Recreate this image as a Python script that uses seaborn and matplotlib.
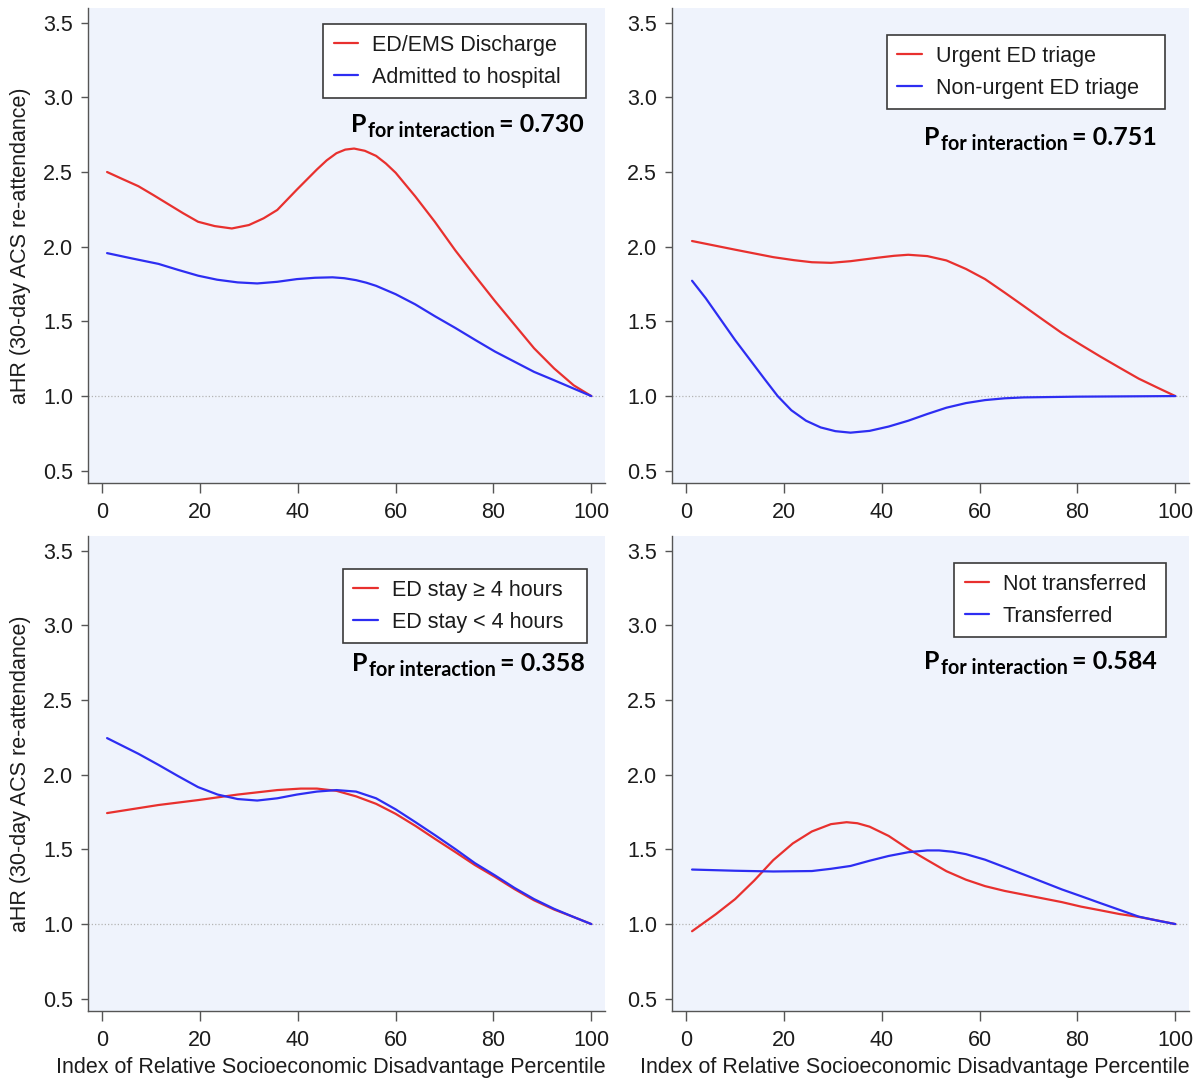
import matplotlib
matplotlib.use("Agg")
import matplotlib.pyplot as plt
from matplotlib.transforms import offset_copy
import pandas as pd
import seaborn as sns

# ---------------- data ----------------
x_ticks = [0, 20, 40, 60, 80, 100]
y_ticks = [0.5, 1.0, 1.5, 2.0, 2.5, 3.0, 3.5]
x_label = "Index of Relative Socioeconomic Disadvantage Percentile"
y_label = "aHR (30-day ACS re-attendance)"

# Panel A: disposition
a_labels = ["ED/EMS Discharge", "Admitted to hospital"]
a_red_x = [1, 4, 7.4, 10.5, 13.5, 16.5, 19.6, 23, 26.5, 30, 33, 35.8, 39.8, 43.9,
           45.9, 47.9, 49.7, 51.5, 53.7, 56, 58, 60, 64, 68, 72.2, 76.2, 80.3,
           84.3, 88.3, 92.4, 96.4, 100]
a_red_y = [2.50, 2.455, 2.405, 2.345, 2.285, 2.225, 2.167, 2.138, 2.122, 2.145,
           2.19, 2.246, 2.382, 2.517, 2.578, 2.626, 2.650, 2.657, 2.642, 2.608,
           2.557, 2.495, 2.337, 2.167, 1.975, 1.806, 1.636, 1.478, 1.320, 1.185,
           1.072, 1.0]
a_blue_x = [1, 6, 11.5, 15.5, 19.6, 23.5, 27.7, 31.7, 35.8, 39.8, 43.5, 47.1,
            49.5, 51.9, 54, 56, 60, 64, 68, 72.2, 76.2, 80.3, 84.3, 88.3, 92.4,
            96.4, 100]
a_blue_y = [1.957, 1.922, 1.885, 1.845, 1.806, 1.779, 1.761, 1.754, 1.765, 1.783,
            1.792, 1.795, 1.789, 1.776, 1.759, 1.738, 1.682, 1.614, 1.535, 1.456,
            1.377, 1.298, 1.230, 1.162, 1.106, 1.050, 1.0]
a_p = "0.730"

# Panel B: triage category
b_labels = ["Urgent ED triage", "Non-urgent ED triage"]
b_red_x = [1.2, 10, 17.8, 22, 25.7, 29.6, 33.6, 39.1, 42.5, 45.4, 49.3, 53.2,
           57.2, 61.1, 65.1, 69, 72.9, 76.8, 80.7, 84.7, 88.6, 92.5, 96.5, 100]
b_red_y = [2.038, 1.980, 1.930, 1.910, 1.896, 1.892, 1.903, 1.926, 1.939, 1.946,
           1.937, 1.908, 1.851, 1.783, 1.693, 1.603, 1.512, 1.422, 1.343, 1.264,
           1.190, 1.117, 1.054, 1.0]
b_blue_x = [1.2, 4, 7, 10, 13, 16, 18.7, 21.5, 24.5, 27.5, 30.5, 33.6, 37.5,
            41.4, 45.4, 49.3, 53.2, 57.2, 61.1, 65.1, 69, 80, 100]
b_blue_y = [1.772, 1.655, 1.515, 1.375, 1.245, 1.115, 1.0, 0.905, 0.835, 0.790,
            0.765, 0.755, 0.767, 0.796, 0.835, 0.880, 0.922, 0.953, 0.973, 0.985,
            0.991, 0.996, 1.0]
b_p = "0.751"

# Panel C: length of ED stay
c_labels = ["ED stay \u2265 4 hours", "ED stay < 4 hours"]
c_red_x = [1, 11.5, 19.6, 27.7, 35.8, 40.6, 43.9, 47.9, 51.9, 56, 60, 64.1, 68.1,
           72.2, 76.2, 80.3, 84.3, 88.3, 92.4, 96.4, 100]
c_red_y = [1.743, 1.797, 1.830, 1.867, 1.897, 1.907, 1.907, 1.892, 1.855, 1.805,
           1.738, 1.656, 1.569, 1.482, 1.395, 1.316, 1.234, 1.159, 1.097, 1.047,
           1.0]
c_blue_x = [1, 7.4, 11.5, 15.5, 19.6, 23.6, 27.7, 31.7, 35.8, 39.8, 43.9, 47.9,
            51.9, 56, 60, 64.1, 68.1, 72.2, 76.2, 80.3, 84.3, 88.3, 92.4, 96.4,
            100]
c_blue_y = [2.245, 2.140, 2.066, 1.991, 1.917, 1.867, 1.837, 1.827, 1.842, 1.867,
            1.887, 1.897, 1.887, 1.842, 1.768, 1.681, 1.594, 1.502, 1.408, 1.326,
            1.242, 1.167, 1.102, 1.047, 1.0]
c_p = "0.358"

# Panel D: inter-hospital transfer
d_labels = ["Not transferred", "Transferred"]
d_red_x = [1.2, 6.1, 10, 13.9, 17.8, 21.8, 25.7, 29.6, 32.8, 35, 37.5, 41.4, 45.4,
           49.3, 53.2, 57.2, 61.1, 65.1, 69, 72.9, 76.8, 80.7, 84.7, 88.6, 92.5,
           96.5, 100]
d_red_y = [0.952, 1.067, 1.167, 1.291, 1.428, 1.540, 1.620, 1.669, 1.682, 1.675,
           1.652, 1.590, 1.503, 1.428, 1.354, 1.297, 1.254, 1.222, 1.197, 1.172,
           1.147, 1.117, 1.092, 1.067, 1.048, 1.023, 1.0]
d_blue_x = [1.2, 10, 17.8, 25.7, 29.6, 33.6, 37.5, 41.4, 45.4, 49.3, 51.7, 54.5,
            57.2, 61.1, 65.1, 69, 72.9, 76.8, 80.7, 84.7, 88.6, 92.5, 96.5, 100]
d_blue_y = [1.365, 1.357, 1.352, 1.355, 1.370, 1.389, 1.424, 1.456, 1.481, 1.493,
            1.493, 1.484, 1.468, 1.431, 1.381, 1.332, 1.282, 1.232, 1.187, 1.140,
            1.095, 1.050, 1.022, 1.0]
d_p = "0.584"

# ---------------- style ----------------
RED = "#e8302e"
BLUE = "#2d2df2"
PLOT_BG = "#eff3fc"
AXIS_COL = "#555555"
TEXT_COL = "#1c1c1c"
FS = 15.5

sns.set_theme(style="white")
plt.rcParams.update({
    "font.family": ["Liberation Sans", "DejaVu Sans"],
    "axes.facecolor": PLOT_BG,
    "figure.facecolor": "white",
})

W, H = 1203, 1082
fig = plt.figure(figsize=(W / 100, H / 100), dpi=100)


def px_rect(left, top, right, bottom):
    return [left / W, (H - bottom) / H, (right - left) / W, (bottom - top) / H]


ax_a = fig.add_axes(px_rect(88, 8, 605, 483))
ax_b = fig.add_axes(px_rect(672, 8, 1189, 483))
ax_c = fig.add_axes(px_rect(88, 536, 605, 1011))
ax_d = fig.add_axes(px_rect(672, 536, 1189, 1011))

renderer = fig.canvas.get_renderer()


def p_label(ax, x_ax, y_ax, pval):
    """Bold 'P' with a subscript 'for interaction', right-aligned at (x_ax, y_ax)."""
    kw = dict(ha="right", va="baseline", fontfamily="Lato", fontweight="bold",
              color="black")
    main = ax.text(x_ax, y_ax, "= " + pval, transform=ax.transAxes,
                   fontsize=18, **kw)
    w_main = main.get_window_extent(renderer).width
    sub_tr = offset_copy(ax.transAxes, fig=fig, x=-(w_main + 4), y=-5,
                         units="dots")
    sub = ax.text(x_ax, y_ax, "for interaction", transform=sub_tr,
                  fontsize=14.2, **kw)
    w_sub = sub.get_window_extent(renderer).width
    p_tr = offset_copy(ax.transAxes, fig=fig, x=-(w_main + 4 + w_sub + 2), y=0,
                       units="dots")
    ax.text(x_ax, y_ax, "P", transform=p_tr, fontsize=18, **kw)


def draw_panel(ax, rx, ry, bx, by, labels, pval, leg_box, p_xy, left_col, bottom_row):
    df = pd.concat([
        pd.DataFrame({"pct": rx, "ahr": ry, "group": labels[0]}),
        pd.DataFrame({"pct": bx, "ahr": by, "group": labels[1]}),
    ], ignore_index=True)
    ax.axhline(1.0, color="#b4b4b4", lw=0.9, ls=(0, (1, 1.6)), zorder=1)
    sns.lineplot(data=df, x="pct", y="ahr", hue="group", hue_order=labels,
                 palette=[RED, BLUE], estimator=None, linewidth=1.6, ax=ax,
                 zorder=3)

    ax.set_xlim(-2.9, 102.8)
    ax.set_ylim(0.418, 3.598)
    ax.set_xticks(x_ticks)
    ax.set_yticks(y_ticks)
    ax.set_yticklabels([f"{v:.1f}" for v in y_ticks])
    ax.tick_params(axis="y", length=5.3, width=1.0, color=AXIS_COL,
                   labelsize=FS, labelcolor=TEXT_COL, pad=5.5, left=True)
    ax.tick_params(axis="x", length=7, width=1.0, color=AXIS_COL,
                   labelsize=FS, labelcolor=TEXT_COL, pad=6.5, bottom=True)
    for side in ("top", "right"):
        ax.spines[side].set_visible(False)
    for side in ("left", "bottom"):
        ax.spines[side].set_color(AXIS_COL)
        ax.spines[side].set_linewidth(1.0)

    if bottom_row:
        ax.set_xlabel(x_label, fontsize=FS, color=TEXT_COL)
        ax.xaxis.set_label_coords(0.47, -0.097)
        ax.xaxis.label.set_va("top")
    else:
        ax.set_xlabel("")
    if left_col:
        ax.set_ylabel(y_label, fontsize=FS, color=TEXT_COL)
        ax.yaxis.set_label_coords(-0.110, 0.5)
    else:
        ax.set_ylabel("")

    handles, labs = ax.get_legend_handles_labels()
    x0, w, ytop = leg_box
    leg = ax.legend(handles, labs, loc="upper left", bbox_to_anchor=(x0, 0, w, ytop),
                    mode="expand", borderaxespad=0, frameon=True, fancybox=False,
                    framealpha=1, facecolor="white", edgecolor="#3a3a3a",
                    fontsize=FS, handlelength=1.12, handletextpad=0.65,
                    borderpad=0.5, labelspacing=0.5)
    leg.get_frame().set_linewidth(1.2)
    for t in leg.get_texts():
        t.set_color(TEXT_COL)

    p_label(ax, p_xy[0], p_xy[1], pval)


draw_panel(ax_a, a_red_x, a_red_y, a_blue_x, a_blue_y, a_labels, a_p,
           (0.4545, 0.508, 0.9663), (0.959, 0.739), True, False)
draw_panel(ax_b, b_red_x, b_red_y, b_blue_x, b_blue_y, b_labels, b_p,
           (0.4153, 0.5383, 0.943), (0.938, 0.7116), False, False)
draw_panel(ax_c, c_red_x, c_red_y, c_blue_x, c_blue_y, c_labels, c_p,
           (0.4927, 0.472, 0.9305), (0.961, 0.7158), True, True)
draw_panel(ax_d, d_red_x, d_red_y, d_blue_x, d_blue_y, d_labels, d_p,
           (0.5455, 0.41, 0.943), (0.938, 0.72), False, True)

fig.savefig("out.png", dpi=100)
